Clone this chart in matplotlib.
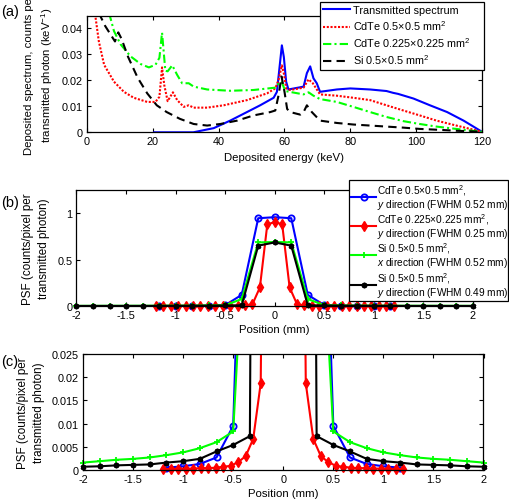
import numpy as np
import matplotlib
matplotlib.use('Agg')
import matplotlib.pyplot as plt
from matplotlib.lines import Line2D

plt.rcParams['font.family'] = ['Liberation Sans', 'DejaVu Sans']
plt.rcParams['mathtext.fontset'] = 'custom'
plt.rcParams['mathtext.rm'] = 'Liberation Sans'
plt.rcParams['mathtext.it'] = 'Liberation Sans:italic'
plt.rcParams['font.size'] = 7.8

# (a) spectra, keV / counts per keV per transmitted photon
e_trans = [20.4, 32.3, 38.5, 43.5, 48.6, 52.6, 56.7, 57.7, 59.2, 59.8, 60.5, 61.2, 65.8, 66.8, 67.8,
           68.8, 69.8, 70.8, 75.9, 80.0, 86.0, 91.0, 93.0, 94.5, 99.2, 104.2, 109.4, 114.4, 120.0]
s_trans = [0.0, 0.0, 0.0016, 0.0045, 0.0078, 0.0104, 0.0133, 0.0156, 0.0335, 0.029, 0.0195, 0.0165, 0.0176, 0.0228, 0.0254,
           0.0208, 0.0189, 0.0156, 0.0165, 0.0169, 0.0165, 0.0159, 0.0152, 0.0148, 0.013, 0.0104, 0.0078, 0.0045, 0.0002]

e_cdte05 = [2.3, 3.6, 5.2, 8.2, 11.2, 14.2, 18.3, 20.8, 22.0, 22.8, 23.5, 24.5, 26.1, 27.4, 29.4, 30.9, 32.4,
            36.5, 41.5, 48.6, 54.7, 57.2, 58.2, 59.2, 59.9, 60.5, 61.7, 65.8, 67.3, 68.6, 70.8, 75.9, 80.9,
            86.0, 91.0, 96.1, 101.1, 106.2, 112.2, 120.0]
s_cdte05 = [0.047, 0.035, 0.026, 0.0195, 0.0156, 0.0133, 0.0117, 0.0117, 0.0137, 0.025, 0.018, 0.012, 0.0154, 0.0124, 0.0098, 0.0104, 0.0095,
            0.0095, 0.0104, 0.0124, 0.015, 0.0169, 0.0202, 0.0258, 0.0221, 0.0169, 0.0163, 0.0172, 0.0204, 0.0189, 0.0146, 0.0141, 0.0133,
            0.0124, 0.0104, 0.0084, 0.0065, 0.0045, 0.0026, 0.0002]

e_cdte0225 = [6.7, 8.2, 10.2, 13.2, 16.3, 18.8, 20.8, 22.0, 22.8, 23.8, 24.5, 25.9, 27.4, 28.9, 30.9, 32.4,
              36.5, 43.5, 50.6, 57.2, 58.7, 59.2, 60.2, 65.8, 67.3, 68.8, 70.8, 75.9, 80.9, 86.0, 91.0,
              96.1, 101.1, 106.2, 112.2, 120.0]
s_cdte0225 = [0.046, 0.039, 0.0339, 0.0293, 0.0263, 0.025, 0.026, 0.0287, 0.0384, 0.0237, 0.0235, 0.0258, 0.0221, 0.0189, 0.0189, 0.0176,
              0.0165, 0.016, 0.0163, 0.0172, 0.0195, 0.0193, 0.0159, 0.0146, 0.0154, 0.0141, 0.0128, 0.0117, 0.0098, 0.0078, 0.0059,
              0.0043, 0.0032, 0.0022, 0.0013, 0.0002]

e_si = [3.6, 5.5, 7.5, 8.5, 9.5, 10.5, 12.5, 15.4, 18.3, 21.2, 24.2, 28.2, 32.4, 36.5, 40.5, 45.6, 50.6, 55.7,
        57.2, 58.2, 59.1, 60.0, 60.8, 61.7, 64.8, 65.8, 66.8, 68.3, 70.8, 75.9, 80.9, 86.0, 91.0, 96.1,
        101.1, 106.2, 112.2, 120.0]
s_si = [0.046, 0.041, 0.037, 0.035, 0.0385, 0.036, 0.029, 0.021, 0.015, 0.0104, 0.0078, 0.0052, 0.0032, 0.0026, 0.0032, 0.0045, 0.0065, 0.0078,
        0.0084, 0.0143, 0.0215, 0.0156, 0.009, 0.0078, 0.0068, 0.0078, 0.0104, 0.0078, 0.0045, 0.0036, 0.003, 0.0026, 0.0022, 0.0018,
        0.0013, 0.001, 0.0006, 0.0002]

# (b),(c) PSF, half profiles from the centre outwards (symmetric)
step_05 = 1 / 6
step_0225 = 0.075
psf_cdte05_y = [0.957, 0.946, 0.12, 0.0095, 0.0027, 0.0013, 0.0008, 0.0005]
psf_cdte0225_y = [0.905, 0.88, 0.2, 0.0187, 0.0067, 0.003, 0.0017, 0.0009, 0.0007, 0.0005,
                  0.0004, 0.0004, 0.0003, 0.0003, 0.0003, 0.0002, 0.0002]
psf_si_x = [0.69, 0.685, 0.075, 0.0083, 0.006, 0.0047, 0.0038, 0.0032, 0.0027, 0.0024, 0.0022, 0.0019, 0.0016]
psf_si_y = [0.685, 0.65, 0.0073, 0.0054, 0.004, 0.0024, 0.0019, 0.0016, 0.0012, 0.0011, 0.001, 0.0008, 0.0007]

labels_a = ['Transmitted spectrum', 'CdTe 0.5\u00d70.5 mm$^2$', 'CdTe 0.225\u00d70.225 mm$^2$', 'Si 0.5\u00d70.5 mm$^2$']
labels_b = ['CdTe 0.5\u00d70.5 mm$^2$,\n$y$ direction (FWHM 0.52 mm)',
            'CdTe 0.225\u00d70.225 mm$^2$,\n$y$ direction (FWHM 0.25 mm)',
            'Si 0.5\u00d70.5 mm$^2$,\n$x$ direction (FWHM 0.52 mm)',
            'Si 0.5\u00d70.5 mm$^2$,\n$y$ direction (FWHM 0.49 mm)']


def full(half, step):
    half = np.asarray(half)
    n = len(half) - 1
    x = np.arange(-n, n + 1) * step
    y = np.concatenate([half[::-1], half[1:]])
    return x, y


W, H = 510, 502
fig = plt.figure(figsize=(W / 100, H / 100), dpi=100)


def axes_px(l, t, r, b):
    return fig.add_axes([l / W, 1 - b / H, (r - l) / W, (b - t) / H])


def style(ax):
    ax.tick_params(direction='in', top=True, right=True, length=3, width=0.8, pad=3, labelsize=7.8)
    for s in ax.spines.values():
        s.set_linewidth(0.9)


# ---- (a)
ax1 = axes_px(87, 16.5, 482, 133.3)
ax1.plot(e_trans, s_trans, color='#0000ff', lw=1.5, label=labels_a[0])
ax1.plot(e_cdte05, s_cdte05, color='#ff0000', lw=1.5, ls=(0, (1, 0.8)), label=labels_a[1])
ax1.plot(e_cdte0225, s_cdte0225, color='#00ff00', lw=1.5, ls=(0, (4, 1.5, 1, 1.5)), label=labels_a[2])
ax1.plot(e_si, s_si, color='black', lw=1.5, ls=(0, (4, 2.5)), label=labels_a[3])
ax1.set_xlim(0, 120)
ax1.set_ylim(0, 0.045)
ax1.set_xticks([0, 20, 40, 60, 80, 100, 120])
ax1.set_yticks([0, 0.01, 0.02, 0.03, 0.04])
ax1.set_yticklabels(['0', '0.01', '0.02', '0.03', '0.04'])
ax1.set_xlabel('Deposited energy (keV)', labelpad=4, fontsize=8.2)
yl = ax1.set_ylabel('Deposited spectrum, counts per\ntransmitted photon (keV$^{-1}$)', labelpad=5, fontsize=8.2)
yl.set_linespacing(1.45)
style(ax1)
leg1 = ax1.legend(loc='upper left', bbox_to_anchor=(320 / W, 1 - 3.5 / H, 164 / W, 0.001),
                  bbox_transform=fig.transFigure, mode='expand',
                  frameon=True, fancybox=False, edgecolor='black', framealpha=1, handlelength=2.5,
                  borderpad=0.3, labelspacing=0.3, handletextpad=0.25, borderaxespad=0, fontsize=7.8)
leg1.get_frame().set_linewidth(0.9)
fig.text(1 / W, 1 - 12 / H, '(a)', fontsize=10.5, va='center', ha='left')

# ---- (b) and (c)
series = [
    (psf_cdte05_y, step_05, dict(color='#0000ff', marker='o', ms=4.5, mfc='none', mew=1.3)),
    (psf_cdte0225_y, step_0225, dict(color='#ff0000', marker='d', ms=5, mfc='#ff0000', mew=1)),
    (psf_si_x, step_05, dict(color='#00ff00', marker='+', ms=5, mew=1.3)),
    (psf_si_y, step_05, dict(color='black', marker=(6, 2, 0), ms=4, mew=1.3)),
]

ax2 = axes_px(76.5, 191, 473, 307)
ax3 = axes_px(83, 355, 483.5, 471)
ylims = {ax2: 1.25, ax3: 0.025}
for ax in (ax2, ax3):
    top = ylims[ax]
    for half, step, kw in series:
        x, y = full(half, step)
        ax.plot(x, y, lw=1.5, color=kw['color'])
        keep = y <= top
        ax.plot(x[keep], y[keep], ls='none', clip_on=False, **kw)
    ax.set_xlim(-2, 2)
    ax.set_ylim(0, top)
    ax.set_xticks([-2, -1.5, -1, -0.5, 0, 0.5, 1, 1.5, 2])
    ax.set_xticklabels(['-2', '-1.5', '-1', '-0.5', '0', '0.5', '1', '1.5', '2'])
    ax.set_xlabel('Position (mm)', labelpad=3, fontsize=8.2)
    yl = ax.set_ylabel('PSF (counts/pixel per\ntransmitted photon)', labelpad=5, fontsize=8.4)
    yl.set_linespacing(1.45)
    style(ax)

ax2.set_yticks([0, 0.5, 1])
ax2.set_yticklabels(['0', '0.5', '1'])
handles = [Line2D([], [], lw=1.5, **kw) for _, _, kw in series]
leg2 = ax2.legend(handles, labels_b, loc='upper left',
                  bbox_to_anchor=(349 / W, 1 - 181.5 / H, 159.5 / W, 0.001),
                  bbox_transform=fig.transFigure, mode='expand',
                  frameon=True, fancybox=False, edgecolor='black', framealpha=1, handlelength=2.5,
                  borderpad=0.2, labelspacing=0.05, handletextpad=0.1, borderaxespad=0, fontsize=7.3)
leg2.get_frame().set_linewidth(0.9)
for t in leg2.get_texts():
    t.set_linespacing(1.0)
fig.text(1 / W, 1 - 203 / H, '(b)', fontsize=10.5, va='center', ha='left')

ax3.set_yticks([0, 0.005, 0.01, 0.015, 0.02, 0.025])
ax3.set_yticklabels(['0', '0.005', '0.01', '0.015', '0.02', '0.025'])
fig.text(1 / W, 1 - 362 / H, '(c)', fontsize=10.5, va='center', ha='left')

fig.savefig('out.png', dpi=100)
